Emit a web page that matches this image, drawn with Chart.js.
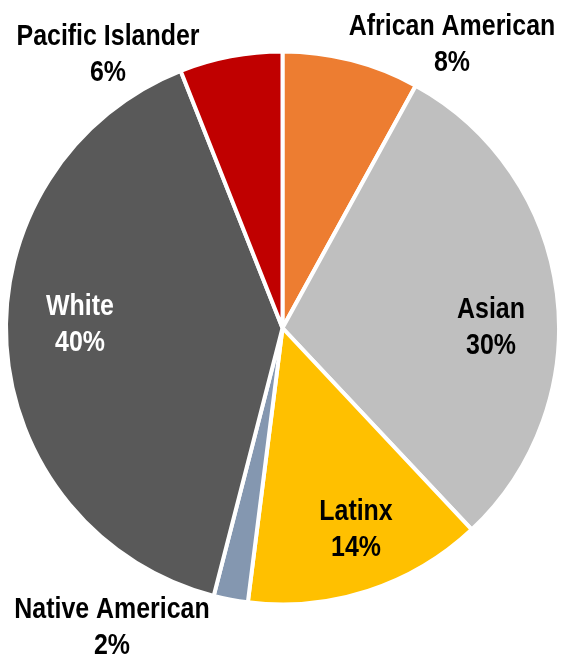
<!DOCTYPE html>
<html>
<head>
<meta charset="utf-8">
<script src="https://cdn.jsdelivr.net/npm/chart.js@4"></script>
<style>
  html, body { margin: 0; padding: 0; background: #fff; }
  #wrap { width: 561px; height: 658px; }
</style>
</head>
<body>
<div id="wrap"><canvas id="pie" width="561" height="658"></canvas></div>
<script>
// Chart data
const groups = ['African American', 'Asian', 'Latinx', 'Native American', 'White', 'Pacific Islander'];
const shares = [8, 30, 14, 2, 40, 6];
const sliceColors = ['#ED7D31', '#BFBFBF', '#FFC000', '#8497B0', '#595959', '#C00000'];
const labelColors = ['#000', '#000', '#000', '#000', '#fff', '#000'];

// where each data label sits (centre of the two-line block)
const labelSpots = [[452, 45], [491, 328], [356, 530], [112, 628], [80, 325], [108, 55]];

const pieLabels = {
    id: 'pieLabels',
    afterDatasetsDraw(chart) {
        const ctx = chart.ctx;
        const data = chart.data.datasets[0].data;
        const squeeze = 0.86; // the original face is a condensed one
        ctx.save();
        ctx.font = 'bold 29px "Liberation Sans", Arial, sans-serif';
        ctx.textAlign = 'center';
        ctx.textBaseline = 'middle';
        chart.data.labels.forEach((name, i) => {
            const [x, y] = labelSpots[i];
            ctx.save();
            ctx.translate(x, y);
            ctx.scale(squeeze, 1);
            ctx.fillStyle = labelColors[i];
            ctx.fillText(name, 0, -18);
            ctx.fillText(data[i] + '%', 0, 18);
            ctx.restore();
        });
        ctx.restore();
    }
};

new Chart(document.getElementById('pie'), {
    type: 'pie',
    data: {
        labels: groups,
        datasets: [{
            data: shares,
            backgroundColor: sliceColors,
            borderColor: '#fff',
            borderWidth: 4
        }]
    },
    options: {
        responsive: false,
        animation: false,
        layout: { padding: { left: 4, right: 0, top: 49, bottom: 51 } },
        plugins: {
            legend: { display: false },
            tooltip: { enabled: false }
        },
        events: []
    },
    plugins: [pieLabels]
});
</script>
</body>
</html>
